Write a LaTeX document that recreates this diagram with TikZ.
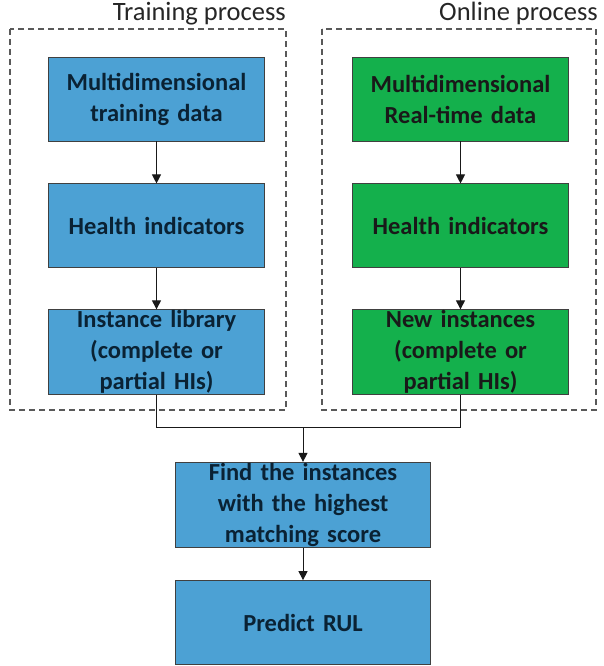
\documentclass[tikz,border=0pt]{standalone}
\usepackage{fontspec}
\setmainfont{Carlito}
\usetikzlibrary{arrows.meta,positioning}

\definecolor{trainblue}{RGB}{76,161,212}
\definecolor{onlinegreen}{RGB}{20,176,76}
\definecolor{boxtext}{RGB}{10,34,52}

\begin{document}
\begin{tikzpicture}[
  x=1pt, y=1pt,
  >={Triangle[length=9pt,width=9pt]},
  box/.style={rectangle, draw=black!75, line width=0.9pt, fill=trainblue,
    minimum width=214pt, minimum height=84pt, text width=210pt,
    inner ysep=1pt, align=center, text=boxtext,
    font=\fontsize{24.5}{31}\selectfont\bfseries},
  gbox/.style={box, fill=onlinegreen, text=black!90},
  wbox/.style={box, minimum width=252pt, text width=248pt},
  procframe/.style={draw=black!65, line width=1.3pt, dash pattern=on 6pt off 4pt},
  proctitle/.style={anchor=base east, inner sep=0pt, text=black!85,
    font=\fontsize{26.5}{30}\selectfont},
  link/.style={draw=black!90, line width=1pt},
]
  \useasboundingbox (0,0) rectangle (604,-666);

  % training column
  \node[box] (tdata) at (156.5,-99) {Multidimensional\\training data};
  \node[box, below=42pt of tdata] (thi) {Health indicators};
  \node[box, below=41pt of thi] (tlib) {Instance library\\(complete or\\partial HIs)};

  % online column
  \node[gbox] (odata) at (460.5,-99) {Multidimensional\\Real-time data};
  \node[gbox, below=42pt of odata] (ohi) {Health indicators};
  \node[gbox, below=41pt of ohi] (onew) {New instances\\(complete or\\partial HIs)};

  % matching and prediction
  \node[wbox] (match) at (303,-505) {Find the instances\\with the highest\\matching score};
  \node[wbox, below=32pt of match] (rul) {Predict RUL};

  % dashed process frames with their titles
  \draw[procframe] (10,-29) rectangle (286,-410);
  \draw[procframe] (322,-29) rectangle (596,-410);
  \node[proctitle] (ttitle) at (286,-21) {Training process};
  \node[proctitle] (otitle) at (598,-21) {Online process};

  \draw[link,->] (tdata) -- (thi);
  \draw[link,->] (thi) -- (tlib);
  \draw[link,->] (odata) -- (ohi);
  \draw[link,->] (ohi) -- (onew);

  \coordinate (merge) at (303,-427);
  \draw[link] (tlib.south) |- (merge);
  \draw[link] (onew.south) |- (merge);
  \draw[link,->] (merge) -- (match.north);
  \draw[link,->] (match) -- (rul);
\end{tikzpicture}
\end{document}
